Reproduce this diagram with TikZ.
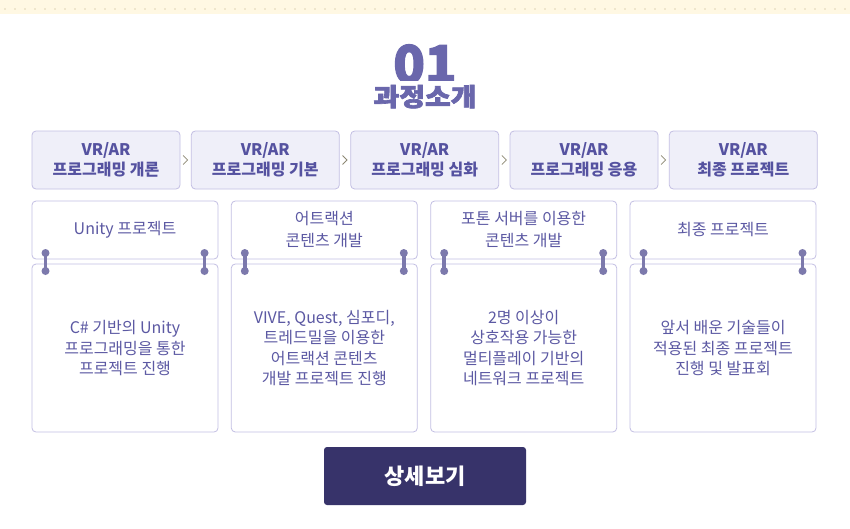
\documentclass[tikz,border=0pt]{standalone}
\usepackage{fontspec}
\setmainfont{Noto Sans CJK KR}
\newfontfamily\heavyfont[BoldFeatures={FakeBold=2.5}]{Noto Sans CJK KR}
\usetikzlibrary{calc}
\definecolor{band}{HTML}{FFF8E3}
\definecolor{banddot}{HTML}{EFE6CC}
\definecolor{titlec}{HTML}{6A67AC}
\definecolor{stepfill}{HTML}{EFEFF9}
\definecolor{stepline}{HTML}{C3BFE3}
\definecolor{steptext}{HTML}{5552A0}
\definecolor{cardline}{HTML}{C3BFE3}
\definecolor{cardtext}{HTML}{5C59A3}
\definecolor{ringc}{HTML}{7C79AC}
\definecolor{chev}{HTML}{8C8772}
\definecolor{btn}{HTML}{37336A}
\tikzset{
  stepbox/.style={draw=stepline, fill=stepfill, line width=0.8pt, rounded corners=4pt,
    minimum width=148pt, minimum height=58pt, inner sep=0pt, align=center,
    text=steptext, font=\fontsize{16}{20}\selectfont\bfseries},
  cardhead/.style={draw=cardline, fill=white, line width=0.8pt, rounded corners=4pt,
    minimum width=186pt, minimum height=58pt, inner sep=0pt, align=center,
    text=cardtext, font=\fontsize{16}{22}\selectfont},
  cardbody/.style={draw=cardline, fill=white, line width=0.8pt, rounded corners=4pt,
    minimum width=186pt, minimum height=168pt, inner sep=0pt, align=center,
    text=cardtext, font=\fontsize{16}{20.5}\selectfont},
  chevron/.style={draw=chev, line width=0.8pt},
  ringbar/.style={draw=ringc, line width=3.6pt},
  ringdot/.style={fill=ringc},
  button/.style={fill=btn, rounded corners=3pt, minimum width=202pt, minimum height=58pt,
    inner sep=0pt, text=white, font=\fontsize{22}{24}\selectfont\bfseries}
}
\begin{document}
\begin{tikzpicture}[x=1pt,y=-1pt]
\useasboundingbox (0,0) rectangle (850,528);
\fill[white] (0,0) rectangle (850,528);
% top band
\fill[band] (0,0) rectangle (850,13.5);
\foreach \i in {0,...,84} {\fill[banddot] ({5+10*\i-0.8},8.2) rectangle ({5+10*\i+0.8},9.8);}
% title
\begin{scope}
\clip (300,30) rectangle (550,80);
\node[text=titlec, font=\fontsize{52}{52}\selectfont\heavyfont\bfseries, anchor=base, inner sep=0pt, text height=38pt, text depth=0pt] (num) at (425,83) {01};
\end{scope}
\node[text=titlec, font=\fontsize{25}{25}\selectfont\heavyfont\bfseries, anchor=base, inner sep=0pt, text height=20pt, text depth=2pt, xscale=1.12] (ttl) at (425,106) {과정소개};
% steps
\node[stepbox] (s1) at (106,160) {VR/AR\\프로그래밍 개론};
\node[stepbox] (s2) at (265.3,160) {VR/AR\\프로그래밍 기본};
\node[stepbox] (s3) at (424.7,160) {VR/AR\\프로그래밍 심화};
\node[stepbox] (s4) at (584,160) {VR/AR\\프로그래밍 응용};
\node[stepbox] (s5) at (743.3,160) {VR/AR\\최종 프로젝트};
\foreach \a/\b in {s1/s2,s2/s3,s3/s4,s4/s5} {
  \coordinate (m) at ($(\a.east)!0.5!(\b.west)$);
  \draw[chevron] ($(m)+(-2.5,-4.5)$) -- ($(m)+(2,0)$) -- ($(m)+(-2.5,4.5)$);
}
% cards
\foreach \n/\x/\h/\b in {
  1/125/{Unity 프로젝트}/{C\# 기반의 Unity\\프로그래밍을 통한\\프로젝트 진행},
  2/324.3/{어트랙션\\콘텐츠 개발}/{VIVE, Quest, 심포디,\\트레드밀을 이용한\\어트랙션 콘텐츠\\개발 프로젝트 진행},
  3/523.7/{포톤 서버를 이용한\\콘텐츠 개발}/{2명 이상이\\상호작용 가능한\\멀티플레이 기반의\\네트워크 프로젝트},
  4/723/{최종 프로젝트}/{앞서 배운 기술들이\\적용된 최종 프로젝트\\진행 및 발표회}} {
  \node[cardhead] (h\n) at (\x,230) {\h};
  \node[cardbody] (c\n) at (\x,348) {\b};
  \foreach \dx in {-79.5,79.5} {
    \draw[ringbar] ($(\x,253)+(\dx,0)$) -- ($(\x,271)+(\dx,0)$);
    \fill[ringdot] ($(\x,253)+(\dx,0)$) circle (4pt);
    \fill[ringdot] ($(\x,271)+(\dx,0)$) circle (4pt);
  }
}
% button
\node[button] (more) at (425,476) {상세보기};
\end{tikzpicture}
\end{document}
